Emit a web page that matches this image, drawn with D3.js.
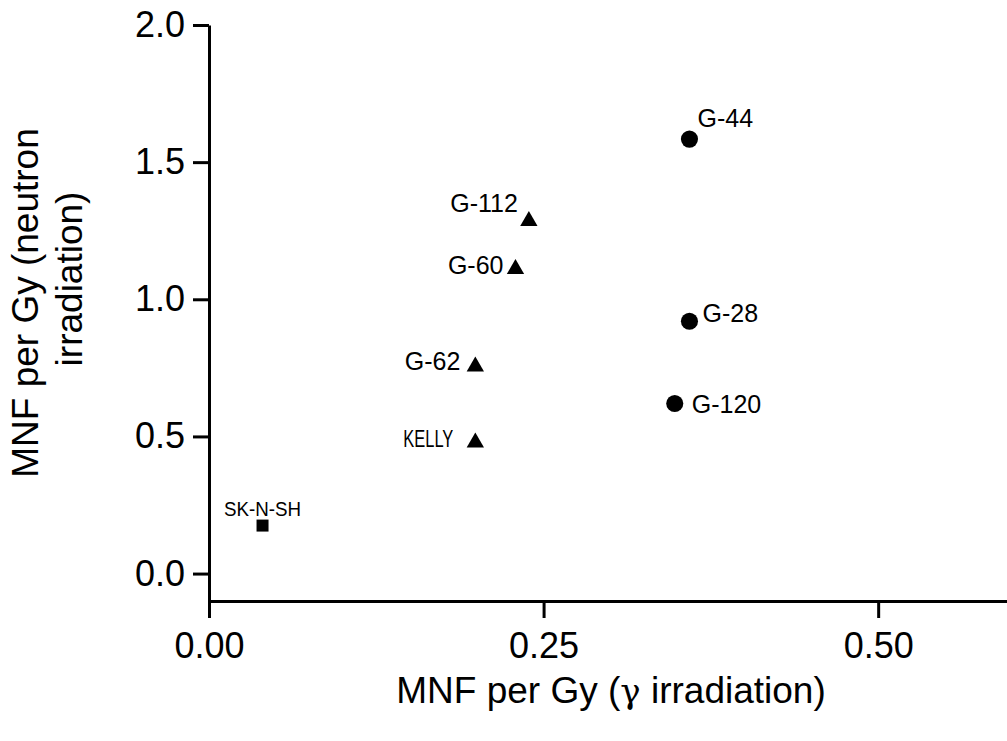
<!DOCTYPE html>
<html>
<head>
<meta charset="utf-8">
<script src="https://cdn.jsdelivr.net/npm/d3@7"></script>
<style>
  body { margin: 0; background: #fff; }
  svg { display: block; font-family: Arial, "Liberation Sans", sans-serif; }
</style>
</head>
<body>
<svg id="chart" width="1007" height="741"></svg>
<script>
// cell lines, MNF per Gy: gamma (x) vs neutron (y)
const lines  = ["SK-N-SH", "KELLY", "G-62", "G-60", "G-112", "G-44", "G-28", "G-120"];
const gamma  = [0.040, 0.199, 0.199, 0.229, 0.239, 0.359, 0.359, 0.348];
const neutron = [0.175, 0.478, 0.755, 1.110, 1.285, 1.584, 0.920, 0.620];
const groups = ["square", "triangle", "triangle", "triangle", "triangle", "circle", "circle", "circle"];

const xTicks = [0, 0.25, 0.5];
const yTicks = [0, 0.5, 1.0, 1.5, 2.0];

const data = lines.map((name, i) => ({ name, x: gamma[i], y: neutron[i], shape: groups[i] }));

// where each label sits relative to its marker
const labelPos = {
  "SK-N-SH": { dx: 0,   dy: -10, anchor: "middle", size: 21, len: 77 },
  "KELLY":   { dx: -22, dy: 5,   anchor: "end",    size: 24, len: 50 },
  "G-62":    { dx: -15, dy: 4,   anchor: "end",    size: 25 },
  "G-60":    { dx: -12, dy: 5,   anchor: "end",    size: 25 },
  "G-112":   { dx: -11, dy: -9,  anchor: "end",    size: 25 },
  "G-44":    { dx: 8,   dy: -12, anchor: "start",  size: 25 },
  "G-28":    { dx: 13,  dy: 1,   anchor: "start",  size: 25 },
  "G-120":   { dx: 17,  dy: 9,   anchor: "start",  size: 25 }
};

const svg = d3.select("#chart");

const x = d3.scaleLinear().domain([0, 0.6]).range([209, 1012]);
const y = d3.scaleLinear().domain([-0.1, 2.0]).range([601, 25]);

const xAxis = d3.axisBottom(x)
  .tickValues(xTicks)
  .tickFormat(d3.format(".2f"))
  .tickSize(17)
  .tickSizeOuter(0)
  .tickPadding(14);

const yAxis = d3.axisLeft(y)
  .tickValues(yTicks)
  .tickFormat(d3.format(".1f"))
  .tickSize(16)
  .tickSizeOuter(0)
  .tickPadding(8);

const gX = svg.append("g")
  .attr("transform", "translate(0," + y(-0.1) + ")")
  .call(xAxis);

const gY = svg.append("g")
  .attr("transform", "translate(" + x(0) + ",0)")
  .call(yAxis);

[gX, gY].forEach(g => {
  g.select(".domain").attr("stroke", "#000").attr("stroke-width", 3);
  g.selectAll(".tick line").attr("stroke", "#000").attr("stroke-width", 3);
  g.selectAll(".tick text")
    .attr("fill", "#000")
    .style("font-size", "36px")
    .style("font-family", "Arial, 'Liberation Sans', sans-serif");
});

// axis titles
const xt = svg.append("text")
  .attr("x", 611)
  .attr("y", 703)
  .attr("text-anchor", "middle")
  .style("font-size", "37px");
xt.append("tspan").text("MNF per Gy (");
xt.append("tspan").style("font-family", "'DejaVu Serif', 'Liberation Serif', serif").style("font-size", "34px").text("\u03b3");
xt.append("tspan").text(" irradiation)");

svg.append("text")
  .attr("transform", "translate(38,303) rotate(-90)")
  .attr("text-anchor", "middle")
  .style("font-size", "37px")
  .text("MNF per Gy (neutron");

svg.append("text")
  .attr("transform", "translate(82,279) rotate(-90)")
  .attr("text-anchor", "middle")
  .style("font-size", "37px")
  .text("irradiation)");

// markers
const symbolFor = {
  square: d3.symbol().type(d3.symbolSquare).size(144),
  triangle: d3.symbol().type(d3.symbolTriangle).size(130),
  circle: d3.symbol().type(d3.symbolCircle).size(230)
};

const pts = svg.selectAll("g.pt")
  .data(data)
  .enter()
  .append("g")
  .attr("class", "pt")
  .attr("transform", d => "translate(" + x(d.x) + "," + y(d.y) + ")");

pts.append("path")
  .attr("d", d => symbolFor[d.shape]())
  .attr("fill", "#000");

pts.append("text")
  .attr("x", d => labelPos[d.name].dx)
  .attr("y", d => labelPos[d.name].dy)
  .attr("text-anchor", d => labelPos[d.name].anchor)
  .style("font-size", d => labelPos[d.name].size + "px")
  .each(function(d) {
    if (labelPos[d.name].len) {
      d3.select(this)
        .attr("textLength", labelPos[d.name].len)
        .attr("lengthAdjust", "spacingAndGlyphs");
    }
  })
  .text(d => d.name);
</script>
</body>
</html>
